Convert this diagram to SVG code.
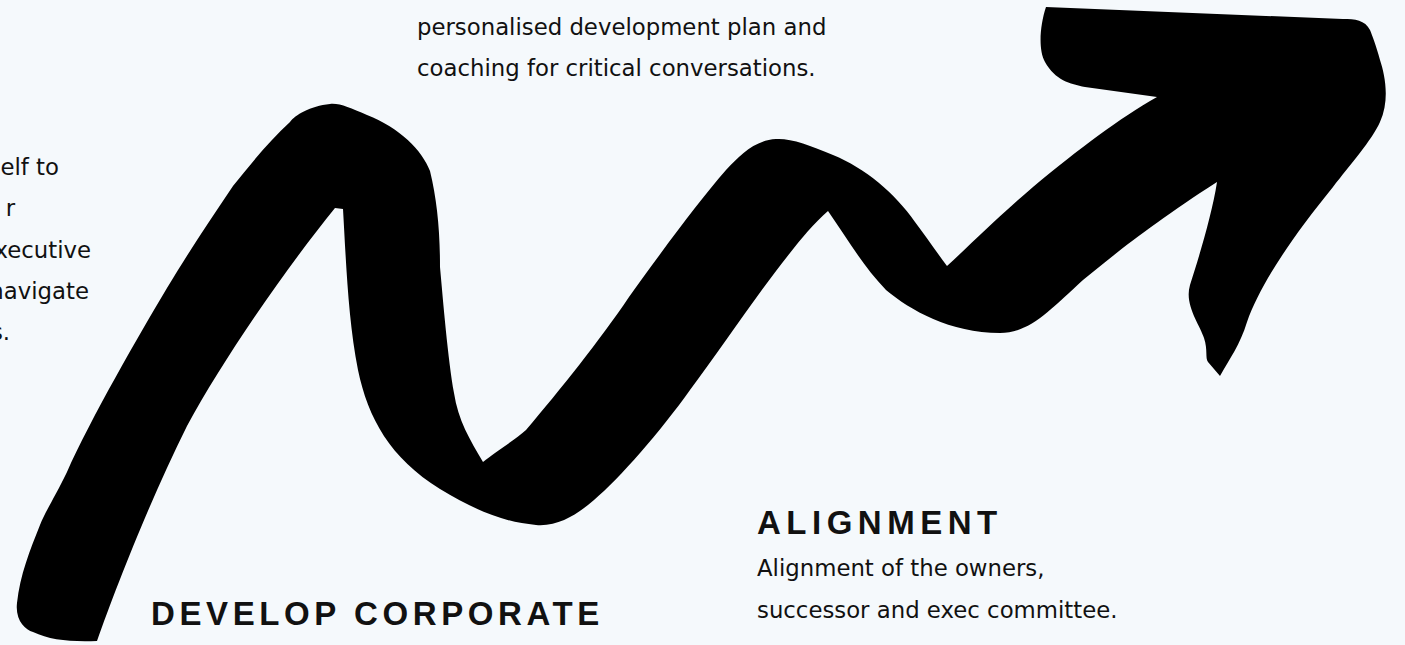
<svg xmlns="http://www.w3.org/2000/svg" width="1405" height="645" viewBox="0 0 1405 645">
<style>
.body{font-family:"DejaVu Sans","Noto Sans",sans-serif;font-size:22.8px;fill:#111}
.head{font-family:"Liberation Sans","Arial",sans-serif;font-weight:bold;font-size:33px;fill:#111}
</style>
<rect width="1405" height="645" fill="#F5F9FC"/>
<g id="arrow">
<path fill="#000" d="M 97 641
C 115 590, 150 500, 187 426
C 220 365, 280 276, 335 208
L 343 209
C 346 260, 348 320, 358 370
C 368 418, 390 458, 440 489
C 470 507, 500 522, 536 525
C 560 527, 580 512, 594 500
C 620 478, 660 432, 690 390
C 720 350, 760 290, 790 253
C 800 240, 815 222, 828 211
C 845 235, 862 265, 886 290
C 910 310, 950 333, 1000 333
C 1030 333, 1050 310, 1083 280
C 1110 258, 1150 225, 1217 182
C 1212 215, 1198 260, 1190 285
C 1184 305, 1200 325, 1204 338
C 1208 350, 1205 358, 1208 362
L 1220 376
C 1230 358, 1240 345, 1247 322
C 1260 285, 1290 240, 1333 187
C 1350 165, 1372 140, 1380 122
C 1390 100, 1385 75, 1380 60
C 1376 45, 1372 35, 1370 30
C 1365 20, 1355 19, 1343 19
L 1046 7
C 1040 25, 1038 50, 1045 62
C 1055 80, 1070 84, 1085 87
L 1157 97
C 1120 118, 1080 148, 1033 187
C 1000 215, 970 245, 947 266
C 935 250, 925 235, 915 222
C 895 193, 865 168, 833 155
C 810 145, 790 138, 776 139
C 755 140, 740 155, 726 170
C 700 200, 670 240, 629 297
C 600 340, 560 390, 526 430
C 515 440, 495 452, 483 462
C 470 440, 458 420, 454 393
C 448 360, 443 300, 440 267
C 440 230, 437 200, 430 171
C 422 150, 400 128, 367 115
C 350 108, 340 103, 330 104
C 310 106, 295 115, 290 122
C 270 140, 250 165, 233 186
C 210 220, 190 250, 167 288
C 140 333, 90 420, 67 472
C 55 497, 45 512, 40 525
C 30 550, 20 575, 17 603
C 15 620, 25 630, 33 632
C 50 640, 70 642, 97 641 Z"/>
</g>
<g id="left-text">
<text class="body" x="59" y="175" text-anchor="end">elf to</text>
<text class="body" x="15" y="216" text-anchor="end">r</text>
<text class="body" x="91" y="258" text-anchor="end">xecutive</text>
<text class="body" x="89" y="299" text-anchor="end">navigate</text>
<text class="body" x="10" y="340" text-anchor="end">s.</text>
</g>
<g id="top-text">
<text class="body" x="417" y="35">personalised development plan and</text>
<text class="body" x="417" y="76">coaching for critical conversations.</text>
</g>
<g id="alignment">
<text class="head" x="757" y="534" letter-spacing="5.5">ALIGNMENT</text>
<text class="body" x="757" y="576">Alignment of the owners,</text>
<text class="body" x="757" y="618">successor and exec committee.</text>
</g>
<g id="develop-corporate">
<text class="head" x="151" y="625" letter-spacing="4.6">DEVELOP CORPORATE</text>
</g>
</svg>
